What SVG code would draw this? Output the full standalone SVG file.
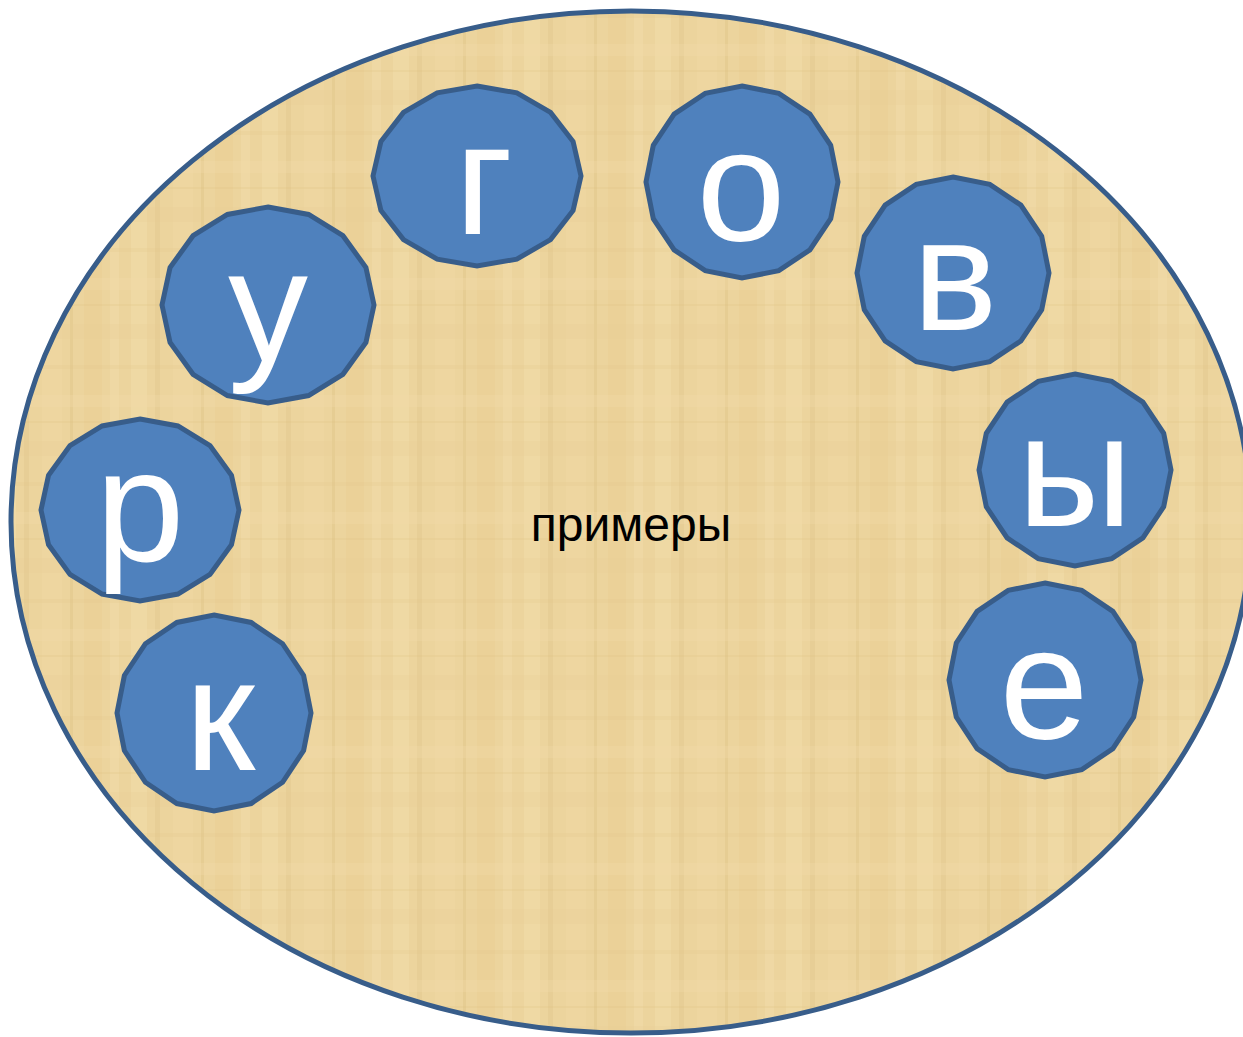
<svg xmlns="http://www.w3.org/2000/svg" xmlns:xlink="http://www.w3.org/1999/xlink" width="1243" height="1037" viewBox="0 0 1243 1037">
<style>
.node{fill:#4F81BD;stroke:#385D8A;stroke-width:5;stroke-linejoin:miter}
.letter{font-family:"Liberation Sans",Arial,sans-serif;font-size:160px;fill:#FFFFFF;text-anchor:middle}
.label{font-family:"Liberation Sans",Arial,sans-serif;font-size:48px;fill:#000000;text-anchor:middle}
</style>
<defs>
<polygon id="p16" vector-effect="non-scaling-stroke" points="0,-1 0.3827,-0.9239 0.7071,-0.7071 0.9239,-0.3827 1,0 0.9239,0.3827 0.7071,0.7071 0.3827,0.9239 0,1 -0.3827,0.9239 -0.7071,0.7071 -0.9239,0.3827 -1,0 -0.9239,-0.3827 -0.7071,-0.7071 -0.3827,-0.9239"/>
<pattern id="pap" patternUnits="userSpaceOnUse" width="131" height="117">
<rect width="131" height="117" fill="#ECD49D"/>
<rect x="0" y="0" width="16" height="117" fill="#F2DEAC" opacity="0.5"/>
<rect x="24" y="0" width="5" height="117" fill="#DDC284" opacity="0.3"/>
<rect x="42" y="0" width="20" height="117" fill="#F0DAA6" opacity="0.4"/>
<rect x="70" y="0" width="3" height="117" fill="#D9BD7B" opacity="0.3"/>
<rect x="84" y="0" width="18" height="117" fill="#E6CB8E" opacity="0.35"/>
<rect x="110" y="0" width="9" height="117" fill="#F3DFAF" opacity="0.4"/>
<rect x="0" y="14" width="131" height="4" fill="#E0C586" opacity="0.2"/>
<rect x="0" y="44" width="131" height="12" fill="#F2DDA9" opacity="0.3"/>
<rect x="0" y="70" width="131" height="2" fill="#DCC07E" opacity="0.2"/>
<rect x="0" y="90" width="131" height="15" fill="#E8CD92" opacity="0.25"/>
</pattern>
</defs>
<g id="background">
<ellipse cx="631" cy="522" rx="620" ry="511" fill="url(#pap)" stroke="#385D8A" stroke-width="5"/>
</g>
<g id="connectors"></g>
<g id="node-g">
<use xlink:href="#p16" class="node" transform="translate(477,176) scale(104,90)"/>
<text class="letter" x="484" y="234">г</text>
</g>
<g id="node-o">
<use xlink:href="#p16" class="node" transform="translate(742,182) scale(96,96)"/>
<text class="letter" x="741" y="240">о</text>
</g>
<g id="node-v">
<use xlink:href="#p16" class="node" transform="translate(953,273) scale(96,96)"/>
<text class="letter" x="955" y="330">в</text>
</g>
<g id="node-y">
<use xlink:href="#p16" class="node" transform="translate(1075,470) scale(96,96)"/>
<text class="letter" x="1075" y="526">ы</text>
</g>
<g id="node-e">
<use xlink:href="#p16" class="node" transform="translate(1045,680) scale(96,97)"/>
<text class="letter" x="1044" y="738">е</text>
</g>
<g id="node-k">
<use xlink:href="#p16" class="node" transform="translate(214,713) scale(97,98)"/>
<text class="letter" x="220" y="770">к</text>
</g>
<g id="node-r">
<use xlink:href="#p16" class="node" transform="translate(140,510) scale(99,91)"/>
<text class="letter" x="140" y="561">р</text>
</g>
<g id="node-u">
<use xlink:href="#p16" class="node" transform="translate(268,305) scale(106,98)"/>
<text class="letter" x="268" y="361">у</text>
</g>
<g id="center-label">
<text class="label" x="631" y="541">примеры</text>
</g>
</svg>
